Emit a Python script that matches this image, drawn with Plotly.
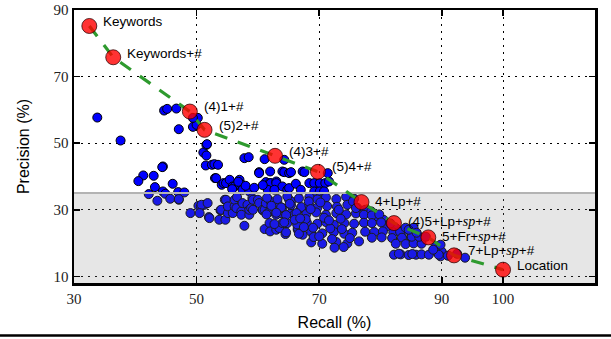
import plotly.graph_objects as go

# ---------------- data ----------------
red_x = [32.5, 36.4, 48.9, 51.3, 62.8, 69.8, 76.9, 82.2, 87.8, 92.0, 100.0]
red_y = [85.2, 75.8, 59.5, 54.0, 46.2, 41.4, 32.3, 26.0, 21.7, 16.3, 12.0]
SP = "<span style='font-family:Liberation Serif;font-size:14px'><i>sp</i></span>"
red_labels = ["Keywords", "Keywords+#", "(4)1+#", "(5)2+#", "(4)3+#", "(5)4+#",
              "4+Lp+#", "(4)5+Lp+" + SP + "+#", "5+Fr+" + SP + "+#",
              "7+Lp+" + SP + "+#", "Location"]

blue_x = [
    33.8, 37.6, 44.7, 45.2, 46.7, 47.1, 49.4, 50.2, 50.0, 49.4, 51.1, 51.6, 51.7, 51.6, 51.5,
    52.5, 52.9, 53.5, 44.5, 44.4, 41.3, 43.0, 40.5, 46.1, 43.2, 44.5, 47.0, 48.0, 44.9,
    53.0, 53.2, 54.1, 54.4, 54.8, 55.4, 55.9, 56.2, 57.0, 57.0, 57.4, 57.5, 58.6, 57.8, 58.5,
    60.2, 60.2, 61.1, 62.0, 61.3, 61.9, 62.1, 63.0, 63.0, 64.0, 64.8, 65.1, 61.6, 62.7, 64.0,
    64.3, 64.3, 65.1, 65.4, 67.3, 67.6, 68.4, 69.2, 70.1, 71.0, 71.6, 69.2, 70.1, 70.8, 71.4,
    55.8, 56.8, 58.0, 59.4, 60.8, 66.2, 67.0,
    # shaded region
    42.2, 43.6, 45.7, 47.1, 47.1, 49.0, 50.3, 50.7, 51.3, 50.8, 51.8, 50.5, 52.0, 52.1, 53.7,
    53.9, 54.0, 54.6, 54.7, 54.8, 55.1, 55.1, 55.9, 56.2, 56.2, 56.5, 56.6, 57.3, 57.3, 57.5,
    57.8, 58.3, 58.6, 58.6, 58.9, 59.1, 59.2, 59.2, 60.0, 60.2, 60.8, 60.8, 61.1, 61.1, 61.3,
    61.6, 61.9, 62.0, 62.1, 63.0, 63.0, 63.2, 63.5, 63.8, 64.0, 64.0, 64.5, 64.6, 64.8, 65.1,
    65.4, 65.4, 65.9, 66.5, 66.5, 67.0, 67.3,
    61.5, 63.2, 64.8, 66.7, 68.4, 69.7, 71.1, 72.8, 74.4, 75.7,
    62.2, 63.8, 65.4, 67.1, 68.4, 69.7, 71.3, 72.9, 74.6, 76.2,
    61.4, 63.0, 64.6, 66.3, 67.9, 69.5, 71.1, 72.8, 74.4, 76.0,
    62.7, 64.3, 66.4, 68.0, 69.7, 71.1, 72.4, 74.1, 75.7,
    64.6, 66.7, 68.7, 70.5, 72.4, 74.1, 75.4,
    68.7, 70.5, 72.8, 74.6,
    72.5, 74.0, 76.5, 67.8, 69.0, 70.2, 71.8, 73.5, 75.0, 66.0, 67.5, 69.1, 70.8, 72.1, 73.7,
    68.3, 70.0, 71.6, 73.2, 65.2, 66.9, 68.6,
    75.5, 76.0, 77.5, 78.5, 79.5, 80.5, 81.0, 82.5, 83.5,
    77.3, 78.6, 79.8,
    77.3, 78.6, 80.1, 81.6,
    77.5, 79.0, 80.4, 82.1, 83.2,
    78.6, 80.2, 81.9, 83.5, 85.0,
    82.5, 84.1, 85.4, 86.7,
    84.1, 85.4, 85.1, 86.3, 87.4, 84.6, 85.9,
    82.2, 83.3, 84.6, 85.8, 86.7, 87.9, 83.0, 85.2,
    89.2, 90.0, 89.8, 89.5, 93.8, 89.0, 89.8, 91.0, 92.5, 88.6,
]
blue_y = [
    57.7, 50.8, 59.8, 60.3, 60.4, 54.2, 54.9, 57.6, 55.5, 57.6, 47.2, 49.5, 49.7, 46.3, 43.3,
    43.5, 43.7, 43.5, 43.0, 42.8, 40.3, 40.2, 38.6, 37.8, 36.8, 35.5, 35.3, 35.2, 34.8,
    39.5, 39.5, 37.5, 38.0, 38.0, 39.0, 37.0, 37.0, 37.5, 39.0, 37.5, 36.0, 35.5, 45.5, 45.8,
    41.3, 41.0, 45.2, 41.5, 38.3, 38.0, 38.0, 38.5, 38.0, 37.0, 36.0, 36.5, 36.0, 36.0, 41.5,
    41.3, 45.0, 41.0, 41.3, 41.5, 41.3, 38.0, 38.0, 38.0, 38.0, 38.5, 35.5, 35.5, 35.5, 41.0,
    36.2, 38.4, 37.2, 36.6, 37.4, 37.8, 36.0,
    # shaded region
    34.7, 32.7, 33.3, 33.0, 33.2, 29.0, 31.2, 31.0, 31.5, 31.5, 32.0, 29.0, 27.8, 27.5, 27.0,
    29.8, 30.0, 33.0, 27.0, 33.0, 29.0, 31.0, 29.0, 31.0, 33.0, 30.5, 33.8, 29.5, 28.5, 32.0,
    25.2, 31.5, 28.5, 30.0, 30.5, 33.5, 30.0, 33.0, 33.0, 32.0, 29.8, 30.0, 24.2, 30.0, 32.0,
    29.0, 26.0, 23.5, 32.5, 24.0, 28.5, 32.0, 24.5, 29.0, 26.0, 30.5, 22.7, 26.0, 26.0, 33.0,
    29.0, 32.5, 28.5, 24.0, 24.5, 30.5, 22.5,
    33.6, 33.2, 34.0, 33.4, 33.8, 33.1, 33.7, 33.2, 33.9, 33.3,
    31.2, 30.7, 31.4, 30.8, 31.3, 30.6, 31.1, 30.9, 31.5, 30.6,
    28.6, 29.1, 28.4, 29.0, 28.7, 29.2, 28.5, 29.0, 28.6, 28.9,
    25.7, 26.2, 25.6, 26.1, 25.8, 26.3, 25.5, 26.0, 25.8,
    23.2, 22.8, 23.4, 22.9, 23.3, 22.8, 23.1,
    20.2, 19.8, 20.3, 19.9,
    18.6, 18.8, 20.5, 27.2, 24.6, 32.2, 24.4, 27.3, 21.5, 27.0, 24.8, 21.8, 27.6, 21.2, 24.2,
    32.5, 22.0, 26.8, 30.0, 31.8, 27.4, 30.2,
    32.5, 30.5, 30.0, 29.5, 28.0, 27.0, 25.0, 24.5, 23.0,
    28.5, 28.3, 28.6,
    26.1, 26.0, 26.2, 25.9,
    23.4, 23.3, 23.5, 23.2, 23.4,
    21.6, 21.7, 21.5, 21.6, 21.8,
    19.8, 19.7, 19.9, 19.8,
    24.6, 24.6, 21.9, 21.9, 21.9, 24.0, 23.1,
    16.5, 16.6, 16.4, 16.5, 16.6, 16.5, 16.8, 16.7,
    17.4, 17.4, 16.0, 16.5, 15.6, 18.9, 19.5, 16.2, 16.8, 18.0,
]

shade_top = 35
x_range = [30, 115]
y_range = [8, 90]
x_ticks = [30, 50, 70, 90, 100]
y_ticks = [10, 30, 50, 70, 90]

# ---------------- figure ----------------
fig = go.Figure()

fig.add_trace(go.Scatter(
    x=blue_x, y=blue_y, mode="markers",
    marker=dict(size=9, color="#0000ff", line=dict(color="black", width=1)),
    hoverinfo="skip", showlegend=False))

# shaded region (drawn above blue points, below red ones)
fig.add_trace(go.Scatter(
    x=[x_range[0], x_range[1], x_range[1], x_range[0], x_range[0]],
    y=[y_range[0], y_range[0], shade_top, shade_top, y_range[0]],
    mode="lines", fill="toself", fillcolor="rgba(128,128,128,0.2)",
    line=dict(width=0), hoverinfo="skip", showlegend=False))
fig.add_trace(go.Scatter(
    x=x_range, y=[shade_top, shade_top], mode="lines",
    line=dict(color="#b3b3b3", width=2), hoverinfo="skip", showlegend=False))

fig.add_trace(go.Scatter(
    x=red_x, y=red_y, mode="lines",
    line=dict(color="#2e9a2e", width=3.2, dash="13px,11px"),
    hoverinfo="skip", showlegend=False))

fig.add_trace(go.Scatter(
    x=red_x, y=red_y, mode="markers",
    marker=dict(size=15, color="rgba(255,0,0,0.8)",
                line=dict(color="rgba(40,0,0,0.75)", width=1)),
    hoverinfo="skip", showlegend=False))

label_yshift = [4, 4, 5.5, 4, 4, 5, 0.5, 1.5, 1, 5, 4]
for xv, yv, lab, ys in zip(red_x, red_y, red_labels, label_yshift):
    fig.add_annotation(x=xv, y=yv, text=lab, showarrow=False,
                       xanchor="left", yanchor="middle", xshift=12, yshift=ys,
                       font=dict(family="Liberation Sans, Arial", size=13.5, color="black"))

# bottom rule of the figure
fig.add_shape(type="line", xref="paper", yref="paper",
              x0=-0.3, x1=1.1, y0=-0.192, y1=-0.192,
              line=dict(color="black", width=2.5))

axis_common = dict(
    showline=True, linecolor="black", linewidth=2.5, mirror="allticks",
    ticks="inside", ticklen=6, tickwidth=1.5, tickcolor="black",
    showgrid=True, gridcolor="black", gridwidth=1, griddash="2px,5px",
    zeroline=False, automargin=False, ticklabeloverflow="allow",
    tickfont=dict(family="Liberation Serif, Times New Roman, serif", size=15, color="#222"),
    title_font=dict(family="Liberation Sans, Arial", size=16, color="black"),
)

fig.update_xaxes(range=x_range, tickvals=x_ticks, title_text="Recall (%)",
                 title_standoff=12, **axis_common)
fig.update_yaxes(range=y_range, tickvals=y_ticks, title_text="Precision (%)",
                 title_standoff=20, **axis_common)

fig.update_layout(
    width=611, height=339,
    margin=dict(l=74, r=16, t=10, b=56, autoexpand=False),
    plot_bgcolor="white", paper_bgcolor="white",
    showlegend=False,
)

# remove the browser's default 8px page margin so the figure fills the window
fig.write_html("out.html",
               config={"displayModeBar": False, "staticPlot": True},
               post_script="document.body.style.margin='0';document.body.style.overflow='hidden';")
